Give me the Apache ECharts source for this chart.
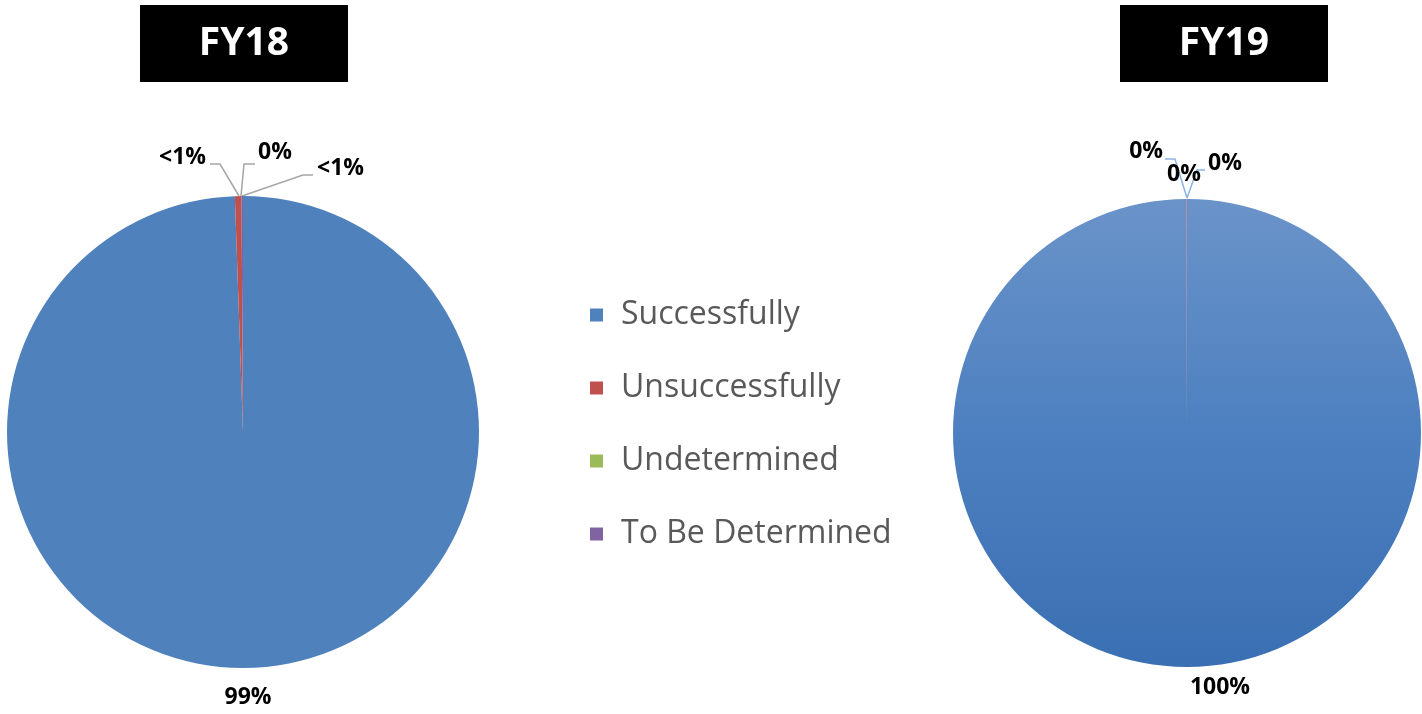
<!DOCTYPE html>
<html>
<head>
<meta charset="utf-8">
<title>FY18 / FY19 outcomes</title>
<script src="https://cdn.jsdelivr.net/npm/echarts@6/dist/echarts.min.js"></script>
<style>
  html, body { margin: 0; padding: 0; background: #ffffff; }
  #chart { width: 1422px; height: 714px; }
</style>
</head>
<body>
<div id="chart"></div>
<script>
// Outcome categories shared by both years
const categories = ['Successfully', 'Unsuccessfully', 'Undetermined', 'To Be Determined'];
// Share of cases per outcome, in percent
const fy18Values = [99.45, 0.45, 0, 0.10];
const fy19Values = [99.97, 0.03, 0, 0];
const yearTitles = ['FY18', 'FY19'];

const palette = ['#4F81BD', '#C0504D', '#9BBB59', '#8064A2'];

// FY18 shows tiny non-zero shares as "<1%", FY19 simply rounds
function fmtLessThanOne(v) {
  if (v === 0) return '0%';
  if (v < 1) return '<1%';
  return Math.round(v) + '%';
}
function fmtRounded(v) {
  return Math.round(v) + '%';
}

// Label anchor placement and leader-line routes for each pie
const fy18LabelPlacement = [
  { x: 248, y: 697, align: 'center', line: null },
  { x: 206, y: 157, align: 'right', line: [[239, 196], [220, 164], [210, 164]] },
  { x: 258, y: 152, align: 'left', line: [[241, 196], [244, 164], [255, 164]] },
  { x: 317, y: 168, align: 'left', line: [[242, 196], [303, 175], [313, 175]] }
];
const fy19LabelPlacement = [
  { x: 1220, y: 687, align: 'center', line: null },
  { x: 1163, y: 151, align: 'right', line: [[1187, 198], [1175, 159], [1165, 159]] },
  { x: 1167, y: 174, align: 'left', line: null },
  { x: 1208, y: 163, align: 'left', line: [[1187, 198], [1197, 170], [1205, 170]] }
];

const fy19Blue = new echarts.graphic.LinearGradient(0, 0, 0, 1, [
  { offset: 0, color: '#6A93C9' },
  { offset: 0.5, color: '#4D80C0' },
  { offset: 1, color: '#3A6FB3' }
]);

function buildData(values, placement, firstColor) {
  return values.map(function (v, i) {
    return {
      name: categories[i],
      value: v,
      itemStyle: { color: i === 0 && firstColor ? firstColor : palette[i] },
      labelLine: { show: !!placement[i].line }
    };
  });
}

function makeLayout(placement) {
  return function (params) {
    const p = placement[params.dataIndex];
    const out = { x: p.x, y: p.y, align: p.align, verticalAlign: 'middle' };
    if (p.line) out.labelLinePoints = p.line;
    return out;
  };
}

const labelFont = {
  fontFamily: '"Open Sans", "Liberation Sans", sans-serif',
  fontWeight: 'bold',
  fontSize: 23,
  color: '#000000'
};

function titleBox(cx, text) {
  return {
    type: 'group',
    children: [
      { type: 'rect', shape: { x: cx - 104, y: 5, width: 208, height: 77 }, style: { fill: '#000000' } },
      {
        type: 'text',
        x: cx, y: 44,
        style: {
          text: text,
          fill: '#ffffff',
          font: 'bold 39px "Open Sans", "Liberation Sans", sans-serif',
          align: 'center',
          verticalAlign: 'middle'
        }
      }
    ]
  };
}

const chart = echarts.init(document.getElementById('chart'), null, { renderer: 'canvas' });

chart.setOption({
  animation: false,
  backgroundColor: '#ffffff',
  color: palette,
  graphic: [titleBox(244, yearTitles[0]), titleBox(1224, yearTitles[1])],
  legend: {
    orient: 'vertical',
    left: 590,
    top: 297,
    padding: 0,
    icon: 'rect',
    itemWidth: 13,
    itemHeight: 13,
    itemGap: 37,
    selectedMode: false,
    data: categories,
    textStyle: {
      fontFamily: '"Open Sans", "Liberation Sans", sans-serif',
      fontSize: 32,
      lineHeight: 36,
      color: '#595959',
      padding: [0, 0, 0, 13]
    }
  },
  series: [
    {
      name: yearTitles[0],
      type: 'pie',
      center: [243, 432],
      radius: 236,
      startAngle: 90,
      clockwise: true,
      avoidLabelOverlap: false,
      silent: true,
      emphasis: { disabled: true },
      label: Object.assign({
        show: true,
        position: 'outside',
        formatter: function (p) { return fmtLessThanOne(p.value); }
      }, labelFont),
      labelLine: { show: true, lineStyle: { color: '#A6A6A6', width: 1.5 } },
      labelLayout: makeLayout(fy18LabelPlacement),
      itemStyle: { borderWidth: 0 },
      data: buildData(fy18Values, fy18LabelPlacement, null)
    },
    {
      name: yearTitles[1],
      type: 'pie',
      center: [1187, 433],
      radius: 234,
      startAngle: 90,
      clockwise: true,
      avoidLabelOverlap: false,
      silent: true,
      emphasis: { disabled: true },
      label: Object.assign({
        show: true,
        position: 'outside',
        formatter: function (p) { return fmtRounded(p.value); }
      }, labelFont),
      labelLine: { show: true, lineStyle: { color: '#8DB3E2', width: 1.5 } },
      labelLayout: makeLayout(fy19LabelPlacement),
      itemStyle: { borderWidth: 0 },
      data: buildData(fy19Values, fy19LabelPlacement, fy19Blue)
    }
  ]
});
</script>
</body>
</html>
